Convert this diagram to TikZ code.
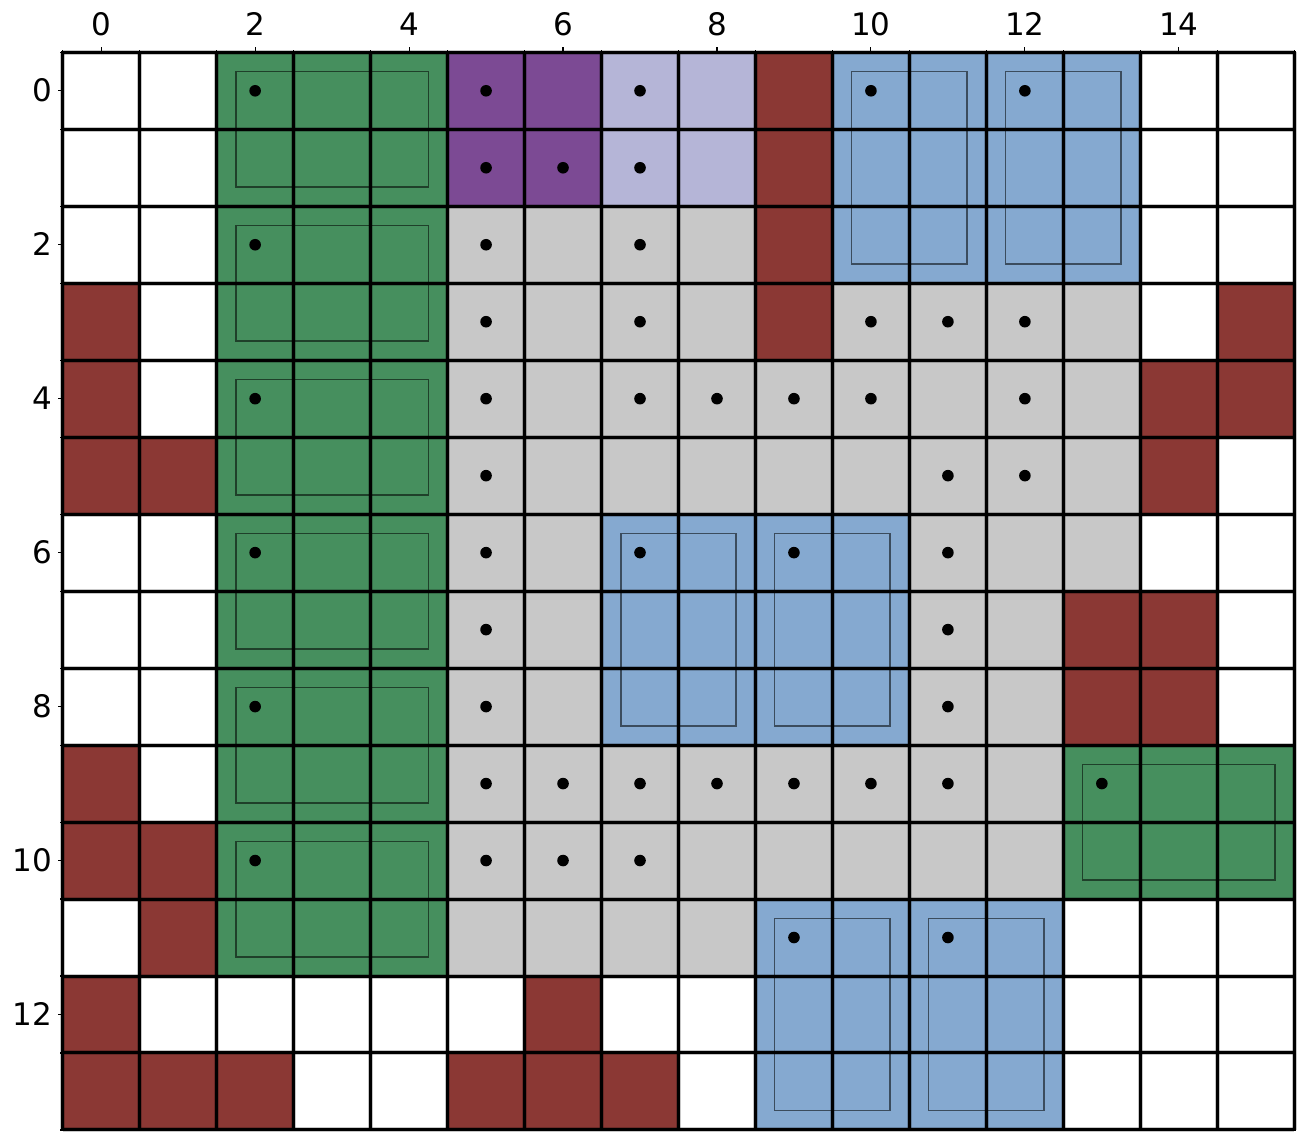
\documentclass[tikz,border=0pt]{standalone}
\usepackage{fontspec}
\setmainfont{DejaVu Sans}
\definecolor{cred}{RGB}{139,56,52}
\definecolor{cgreen}{RGB}{70,143,94}
\definecolor{cpurple}{RGB}{124,74,148}
\definecolor{clpurple}{RGB}{181,181,215}
\definecolor{cblue}{RGB}{133,169,208}
\definecolor{cgray}{RGB}{200,200,200}
\tikzset{
  cellfill/.style={fill=#1, draw=none},
  inner/.style={draw=black, draw opacity=0.55, line width=1.5pt},
  gridblack/.style={draw=black, line width=3pt},
  gridedge/.style={draw=black, draw opacity=0.22, line width=5pt},
  dot/.style={fill=black, draw=none},
  ticklab/.style={inner sep=0pt, font=\fontsize{31}{37}\selectfont},
  tickline/.style={draw=black, line width=1.1pt},
}
\begin{document}
\begin{tikzpicture}[x=76.98pt, y=-76.98pt]
\useasboundingbox (-0.8145,-0.6794) rectangle (16.126,14.130);
% background
\fill[white] (0,0) rectangle (16,14);
% green
\foreach \a/\b/\c/\d in {2/0/5/12, 13/9/16/11}
  \path[cellfill=cgreen] (\a,\b) rectangle (\c,\d);
% purple
\path[cellfill=cpurple] (5,0) rectangle (7,2);
\path[cellfill=clpurple] (7,0) rectangle (9,2);
% red
\foreach \a/\b/\c/\d in {9/0/10/4, 0/3/1/6, 1/5/2/6, 15/3/16/5, 14/4/15/6, 13/7/15/9,
  0/9/1/11, 1/10/2/12, 0/12/1/14, 1/13/3/14, 6/12/7/14, 5/13/8/14}
  \path[cellfill=cred] (\a,\b) rectangle (\c,\d);
% blue
\foreach \a/\b/\c/\d in {10/0/14/3, 7/6/11/9, 9/11/13/14}
  \path[cellfill=cblue] (\a,\b) rectangle (\c,\d);
% gray
\foreach \a/\b/\c/\d in {5/2/9/4, 10/3/14/4, 5/4/14/6, 5/6/7/9, 11/6/14/7, 11/7/13/9, 5/9/13/11, 5/11/9/12}
  \path[cellfill=cgray] (\a,\b) rectangle (\c,\d);
% soft cell edges
\foreach \i in {0,...,16} \draw[gridedge] (\i,0) -- (\i,14);
\foreach \j in {0,...,14} \draw[gridedge] (0,\j) -- (16,\j);
% inner rectangles
\foreach \r in {0,2,4,6,8,10}
  \draw[inner] (2.25,\r+0.25) rectangle (4.75,\r+1.75);
\draw[inner] (13.25,9.25) rectangle (15.75,10.75);
\foreach \a/\b in {10/0, 12/0, 7/6, 9/6, 9/11, 11/11}
  \draw[inner] (\a+0.25,\b+0.25) rectangle (\a+1.75,\b+2.75);
% black grid
\foreach \i in {0,...,16} \draw[gridblack] (\i,0) -- (\i,14);
\foreach \j in {0,...,14} \draw[gridblack] (0,\j) -- (16,\j);
\draw[gridblack] (0,0) rectangle (16,14);
% dots
\foreach \c/\r in {2/0,5/0,7/0,10/0,12/0,
  5/1,6/1,7/1,
  2/2,5/2,7/2,
  5/3,7/3,10/3,11/3,12/3,
  2/4,5/4,7/4,8/4,9/4,10/4,12/4,
  5/5,11/5,12/5,
  2/6,5/6,7/6,9/6,11/6,
  5/7,11/7,
  2/8,5/8,11/8,
  5/9,6/9,7/9,8/9,9/9,10/9,11/9,13/9,
  2/10,5/10,6/10,7/10,
  9/11,11/11}
  \fill[dot] (\c+0.5,\r+0.5) circle[radius=5.8pt];
% ticks
\foreach \i in {0,...,16} {
  \draw[tickline] (\i,0) -- (\i,-0.036);
}
\foreach \j in {0,...,14} {
  \draw[tickline] (0,\j) -- (-0.036,\j);
}
\foreach \c in {0,2,...,14} {
  \draw[tickline] (\c+0.5,0) -- (\c+0.5,-0.064);
  \node[ticklab, anchor=base] (tx\c) at (\c+0.5,-0.2247) {\c};
}
\foreach \r in {0,2,...,12} {
  \draw[tickline] (0,\r+0.5) -- (-0.064,\r+0.5);
  \node[ticklab, anchor=base east] (ty\r) at (-0.139,\r+0.645) {\r};
}
\end{tikzpicture}
\end{document}
